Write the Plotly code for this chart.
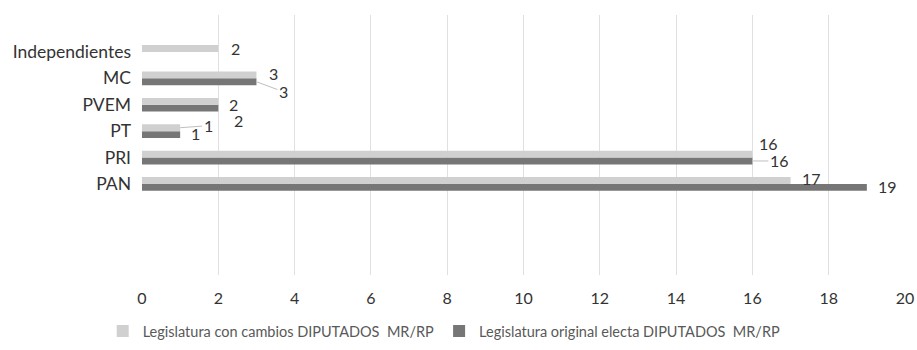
import plotly.graph_objects as go

categories = ["PAN", "PRI", "PT", "PVEM", "MC", "Independientes"]
cambios = [17, 16, 1, 2, 3, 2]
original = [19, 16, 1, 2, 3, None]
x_ticks = [0, 2, 4, 6, 8, 10, 12, 14, 16, 18, 20]

name_c = "Legislatura con cambios DIPUTADOS  MR/RP"
name_o = "Legislatura original electa DIPUTADOS  MR/RP"
col_c = "#d0d0d0"
col_o = "#767676"
font = "Lato, sans-serif"
txt = "#333333"

fig = go.Figure()
fig.add_trace(go.Bar(y=categories, x=original, orientation="h", name=name_o,
                     marker=dict(color=col_o, line=dict(width=0)),
                     width=0.26, offset=-0.26))
fig.add_trace(go.Bar(y=categories, x=cambios, orientation="h", name=name_c,
                     marker=dict(color=col_c, line=dict(width=0)),
                     width=0.26, offset=0.0))

# label placement styles: (x pixel shift of text centre, y pixel shift up, leader line)
style_c = [(21, 2, False), (16, 11, False), (28, 2, True), (15, -3, False), (17, 1, False), (17, 0, False)]
style_o = [(21, 1, False), (27, 0, True), (15, 1, False), (20, -12, False), (27, -10, True), None]

for i, cat in enumerate(categories):
    for vals, dy, styles in ((cambios, 0.13, style_c), (original, -0.13, style_o)):
        v = vals[i]
        if v is None:
            continue
        dx, sy, lead = styles[i]
        if lead:
            fig.add_annotation(x=v, y=i + dy, text=str(v), showarrow=True,
                               arrowhead=0, arrowwidth=1, arrowcolor="#bfbfbf",
                               ax=dx, ay=-sy, standoff=0,
                               xanchor="center", yanchor="middle",
                               font=dict(size=16, color=txt, family=font))
        else:
            fig.add_annotation(x=v, y=i + dy, text=str(v), showarrow=False,
                               xanchor="center", yanchor="middle", xshift=dx, yshift=sy,
                               font=dict(size=16, color=txt, family=font))

fig.update_layout(
    width=917, height=350,
    margin=dict(l=142, r=12, t=15, b=75, autoexpand=False),
    plot_bgcolor="white", paper_bgcolor="white",
    barmode="group",
    font=dict(family=font, size=16, color=txt),
    showlegend=True,
    legend=dict(orientation="h", xref="container", x=0.112, xanchor="left",
                yref="container", y=0.054, yanchor="middle",
                traceorder="reversed", font=dict(size=14.5, color="#595959"),
                itemwidth=30, tracegroupgap=0),
    xaxis=dict(range=[0, 20], tickvals=x_ticks, showgrid=True, gridcolor="#e0e0e0",
               gridwidth=1, zeroline=False, showline=False, ticks="",
               ticklabelstandoff=12, automargin=False,
               tickfont=dict(size=16, color=txt), fixedrange=True),
    yaxis=dict(type="category", categoryorder="array", categoryarray=categories,
               range=[-3.45, 6.4], showgrid=False, zeroline=False, showline=False,
               ticks="", ticklabelstandoff=10, automargin=False, fixedrange=True,
               tickfont=dict(size=17.5, color=txt)),
)

fig.write_html(
    "out.html",
    config={"displayModeBar": False},
    post_script="document.body.style.margin='0';"
                "document.documentElement.style.overflow='hidden';"
                "document.body.style.overflow='hidden';",
)
